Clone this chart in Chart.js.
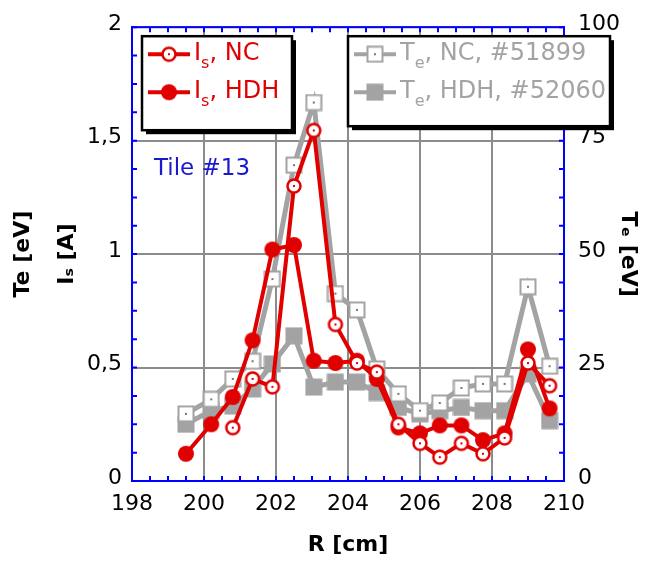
<!DOCTYPE html>
<html>
<head>
<meta charset="utf-8">
<script src="https://cdn.jsdelivr.net/npm/chart.js@4.4.1/dist/chart.umd.min.js"></script>
<style>
  body { margin: 0; background: #fff; }
  canvas { display: block; }
</style>
</head>
<body>
<canvas id="chartIs" width="654" height="561"></canvas>
<script>
// probe position R [cm]
var R = [199.5, 200.2, 200.8, 201.35, 201.9, 202.5, 203.05, 203.65, 204.25, 204.8, 205.4, 206.0, 206.55, 207.15, 207.75, 208.35, 209.0, 209.6];
// ion saturation current [A]
var isNC  = [null, null, 0.235, 0.45, 0.415, 1.30, 1.545, 0.69, 0.52, 0.48, 0.25, 0.166, 0.105, 0.166, 0.12, 0.19, 0.52, 0.42];
var isHDH = [0.12, 0.25, 0.37, 0.62, 1.02, 1.04, 0.53, 0.52, 0.53, 0.45, 0.236, 0.21, 0.245, 0.245, 0.18, 0.21, 0.58, 0.32];
// electron temperature [eV]
var teNC  = [14.8, 18, 22.5, 26.4, 44.5, 69.6, 83.4, 41.3, 37.7, 24.7, 19.2, 15.5, 17.2, 20.5, 21.4, 21.4, 42.8, 25.3];
var teHDH = [12.5, 15.5, 16.5, 20.3, 25.8, 32, 20.7, 21.8, 21.8, 19.5, 16.2, 14.8, 15.5, 16.2, 15.5, 15.5, 23.6, 13.3];
var xTicks = [198, 200, 202, 204, 206, 208, 210];

var RED = "#e00000";
var GRAY = "#a3a3a3";

function pts(ys) {
    return R.map(function (r, i) { return { x: r, y: ys[i] }; });
}

// marker images
function marker(kind, color) {
    var c = document.createElement("canvas");
    c.width = 18; c.height = 18;
    var g = c.getContext("2d");
    g.lineWidth = 2.5;
    if (kind == "ocircle") {
        g.beginPath(); g.arc(9, 9, 6.5, 0, Math.PI * 2);
        g.fillStyle = "#fff"; g.fill();
        g.strokeStyle = color; g.stroke();
        g.fillStyle = color; g.fillRect(8, 8, 2, 2);
    } else if (kind == "fcircle") {
        g.beginPath(); g.arc(9, 9, 8, 0, Math.PI * 2);
        g.fillStyle = color; g.fill();
    } else if (kind == "osquare") {
        g.fillStyle = "#fff"; g.fillRect(1.5, 1.5, 15, 15);
        g.lineWidth = 2; g.strokeStyle = color; g.strokeRect(1.5, 1.5, 15, 15);
        g.fillStyle = "#777"; g.fillRect(8, 8, 2, 2);
    } else {
        g.fillStyle = color; g.fillRect(0.5, 0.5, 17, 17);
    }
    return c;
}
var mOC = marker("ocircle", RED);
var mFC = marker("fcircle", RED);
var mOS = marker("osquare", GRAY);
var mFS = marker("fsquare", GRAY);

function drawLabel(ctx, x, y, main, sub, rest, color) {
    ctx.fillStyle = color;
    ctx.textBaseline = "middle";
    ctx.textAlign = "left";
    ctx.font = "24px 'DejaVu Sans'";
    ctx.fillText(main, x, y);
    x += ctx.measureText(main).width;
    ctx.font = "16px 'DejaVu Sans'";
    ctx.fillText(sub, x, y + 10);
    x += ctx.measureText(sub).width;
    ctx.font = "24px 'DejaVu Sans'";
    ctx.fillText(rest, x, y);
}

function legendBox(ctx, x, y, w, h, rows) {
    ctx.fillStyle = "#000";
    ctx.fillRect(x + 4, y + 4, w, h);
    ctx.fillStyle = "#fff";
    ctx.fillRect(x, y, w, h);
    ctx.strokeStyle = "#000";
    ctx.lineWidth = 2.5;
    ctx.strokeRect(x, y, w, h);
    rows.forEach(function (r, i) {
        var ry = y + 18 + i * 38;
        ctx.strokeStyle = r.color;
        ctx.lineWidth = 4;
        ctx.beginPath(); ctx.moveTo(x + 6, ry); ctx.lineTo(x + 48, ry); ctx.stroke();
        ctx.drawImage(r.img, x + 27 - 9, ry - 9);
        drawLabel(ctx, x + 52, ry, r.main, r.sub, r.rest, r.color);
    });
}

var framePlugin = {
    id: "frame",
    afterDatasetsDraw: function (chart) {
        var ctx = chart.ctx, a = chart.chartArea;
        var sx = chart.scales.x, sy = chart.scales.y, sy1 = chart.scales.y1;
        ctx.save();
        ctx.strokeStyle = "#0000ff";
        ctx.lineWidth = 2;
        ctx.beginPath();
        for (var v = 198; v <= 210; v += 0.5) {
            var px = sx.getPixelForValue(v);
            ctx.moveTo(px, a.bottom); ctx.lineTo(px, a.bottom - 5);
            ctx.moveTo(px, a.top); ctx.lineTo(px, a.top + 5);
        }
        for (var w = 0; w <= 2; w += 0.125) {
            var py = sy.getPixelForValue(w);
            ctx.moveTo(a.left, py); ctx.lineTo(a.left + 5, py);
        }
        for (var t = 0; t <= 100; t += 6.25) {
            var py1 = sy1.getPixelForValue(t);
            ctx.moveTo(a.right, py1); ctx.lineTo(a.right - 5, py1);
        }
        ctx.stroke();
        ctx.strokeRect(a.left, a.top, a.right - a.left, a.bottom - a.top);

        legendBox(ctx, a.left + 10, a.top + 9, 150, 94, [
            { img: mOC, color: RED, main: "I", sub: "s", rest: ", NC" },
            { img: mFC, color: RED, main: "I", sub: "s", rest: ", HDH" }
        ]);
        legendBox(ctx, a.left + 216, a.top + 9, 262, 90, [
            { img: mOS, color: GRAY, main: "T", sub: "e", rest: ", NC, #51899" },
            { img: mFS, color: GRAY, main: "T", sub: "e", rest: ", HDH, #52060" }
        ]);

        ctx.fillStyle = "#1a1acc";
        ctx.font = "23px 'DejaVu Sans'";
        ctx.textBaseline = "middle";
        ctx.fillText("Tile #13", a.left + 22, a.top + 142);
        ctx.restore();
    }
};

Chart.defaults.font.family = "'DejaVu Sans'";
Chart.defaults.color = "#000";

var ctx = document.getElementById("chartIs");
var myChart = new Chart(ctx, {
    type: "line",
    data: {
        datasets: [{
            label: "Is, NC",
            data: pts(isNC),
            yAxisID: "y",
            borderColor: RED,
            borderWidth: 4,
            pointStyle: mOC
        }, {
            label: "Is, HDH",
            data: pts(isHDH),
            yAxisID: "y",
            borderColor: RED,
            borderWidth: 4,
            pointStyle: mFC
        }, {
            label: "Te, NC, #51899",
            data: pts(teNC),
            yAxisID: "y1",
            borderColor: GRAY,
            borderWidth: 5,
            pointStyle: mOS
        }, {
            label: "Te, HDH, #52060",
            data: pts(teHDH),
            yAxisID: "y1",
            borderColor: GRAY,
            borderWidth: 5,
            pointStyle: mFS
        }]
    },
    options: {
        responsive: false,
        animation: false,
        layout: { padding: { top: 23, left: 0, right: 0, bottom: 0 } },
        plugins: { legend: { display: false }, tooltip: { enabled: false } },
        elements: { line: { tension: 0 }, point: { radius: 8 } },
        scales: {
            x: {
                type: "linear",
                min: 198, max: 210,
                afterBuildTicks: function (s) { s.ticks = xTicks.map(function (v) { return { value: v }; }); },
                afterFit: function (s) { s.height = 80; },
                ticks: { font: { size: 22 }, padding: 10, maxRotation: 0 },
                grid: { color: "#8c8c8c", lineWidth: 2, drawTicks: false },
                border: { color: "#0000ff", width: 2 },
                title: { display: true, text: "R [cm]", font: { size: 22, weight: "bold" }, padding: { top: 0, bottom: 3 } }
            },
            y: {
                position: "left",
                min: 0, max: 2,
                afterFit: function (s) { s.width = 132; },
                ticks: {
                    stepSize: 0.5, font: { size: 22 }, padding: 10, labelOffset: -3,
                    callback: function (v) { return String(v).replace(".", ","); }
                },
                grid: { color: "#8c8c8c", lineWidth: 2, drawTicks: false },
                border: { color: "#0000ff", width: 2 },
                title: { display: true, text: ["Te [eV]", "Iₛ [A]"], font: { size: 22, weight: "bold", lineHeight: 2 }, padding: { top: 1, bottom: 0 } }
            },
            y1: {
                position: "right",
                min: 0, max: 100,
                afterFit: function (s) { s.width = 90; },
                ticks: { stepSize: 25, font: { size: 22 }, padding: 14, labelOffset: -3 },
                grid: { display: false, drawTicks: false },
                border: { color: "#0000ff", width: 2 },
                title: { display: true, text: "Tₑ [eV]", font: { size: 22, weight: "bold" }, padding: { top: 13, bottom: 0 } }
            }
        }
    },
    plugins: [framePlugin]
});
</script>
</body>
</html>
